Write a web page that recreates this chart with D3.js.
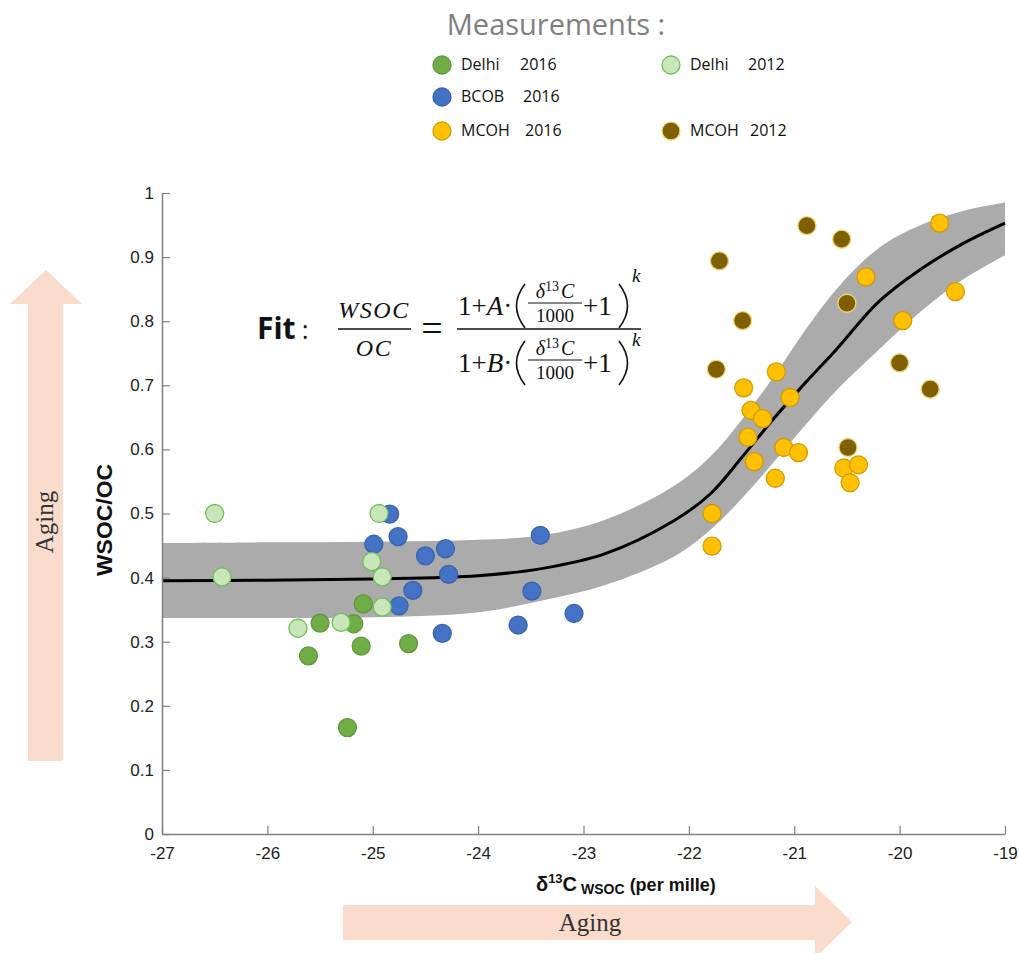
<!DOCTYPE html>
<html>
<head>
<meta charset="utf-8">
<script src="https://cdn.jsdelivr.net/npm/d3@7"></script>
<style>
  body { margin: 0; background: #fff; }
  svg { display: block; }
</style>
</head>
<body>
<div id="chart"></div>
<script>
// measured points, [delta13C, WSOC/OC]
const delhi2016 = [[-25.09, 0.359], [-25.50, 0.329], [-25.18, 0.328], [-25.61, 0.278],
  [-25.11, 0.293], [-24.66, 0.297], [-25.24, 0.166]];
const delhi2012 = [[-26.50, 0.500], [-26.43, 0.401], [-24.94, 0.500], [-25.01, 0.425],
  [-24.91, 0.401], [-24.91, 0.354], [-25.71, 0.321], [-25.30, 0.330]];
const bcob2016 = [[-24.84, 0.499], [-24.76, 0.464], [-24.99, 0.452], [-24.50, 0.434],
  [-24.31, 0.445], [-24.28, 0.405], [-24.62, 0.380], [-24.75, 0.356], [-24.34, 0.313],
  [-23.41, 0.466], [-23.49, 0.379], [-23.62, 0.326], [-23.09, 0.344]];
const mcoh2016 = [[-19.62, 0.953], [-20.32, 0.869], [-19.47, 0.846], [-19.97, 0.801],
  [-21.17, 0.721], [-21.48, 0.696], [-21.04, 0.681], [-21.41, 0.661], [-21.30, 0.648],
  [-21.44, 0.619], [-21.10, 0.603], [-20.96, 0.595], [-21.38, 0.581], [-21.18, 0.555],
  [-20.53, 0.571], [-20.39, 0.576], [-20.47, 0.548], [-21.78, 0.500], [-21.78, 0.449]];
const mcoh2012 = [[-20.88, 0.949], [-20.55, 0.928], [-21.71, 0.894], [-21.49, 0.801],
  [-20.50, 0.828], [-21.74, 0.725], [-20.00, 0.735], [-19.71, 0.694], [-20.49, 0.603]];

// fit curve and its band
const fitX = [-27, -26, -25, -24, -23.4, -22.8, -22.15, -21.8, -21.5, -21.2, -20.9, -20.6, -20.2, -19.8, -19.4, -19];
const fitY = [0.395, 0.396, 0.398, 0.403, 0.414, 0.437, 0.488, 0.530, 0.587, 0.647, 0.703, 0.756, 0.830, 0.881, 0.921, 0.953];
const bandUpper = [0.454, 0.455, 0.456, 0.459, 0.466, 0.490, 0.542, 0.588, 0.646, 0.712, 0.785, 0.850, 0.914, 0.950, 0.972, 0.985];
const bandLower = [0.337, 0.337, 0.338, 0.346, 0.364, 0.388, 0.432, 0.474, 0.523, 0.579, 0.637, 0.692, 0.755, 0.815, 0.865, 0.903];

const xTicks = [-27, -26, -25, -24, -23, -22, -21, -20, -19];
const yTicks = [0, 0.1, 0.2, 0.3, 0.4, 0.5, 0.6, 0.7, 0.8, 0.9, 1];
const yTickLabels = ['0', '0.1', '0.2', '0.3', '0.4', '0.5', '0.6', '0.7', '0.8', '0.9', '1'];

const legendNames = ['Delhi', 'Delhi', 'BCOB', 'MCOH', 'MCOH'];
const legendYears = ['2016', '2012', '2016', '2016', '2012'];

const width = 1019, height = 953;
const styles = {
  delhi2016: { fill: '#70ad47', stroke: '#5e9a3a' },
  delhi2012: { fill: '#c9e6bb', stroke: '#6fbf5a' },
  bcob2016: { fill: '#4472c4', stroke: '#3a64b0' },
  mcoh2016: { fill: '#ffc000', stroke: '#d49b00' },
  mcoh2012: { fill: '#7f6000', stroke: '#f2d27a' }
};
const peach = '#f9dccb';

const svg = d3.select('#chart').append('svg')
  .attr('width', width)
  .attr('height', height);

const x = d3.scaleLinear().domain([-27, -19]).range([162, 1005]);
const y = d3.scaleLinear().domain([0, 1]).range([834, 193]);

// aging arrows
const vArrow = [[28, 761], [28, 304], [10, 304], [46, 270], [82, 304], [63, 304], [63, 761]];
svg.append('polygon').attr('points', vArrow.join(' ')).attr('fill', peach);
svg.append('text')
  .attr('transform', 'translate(53,522) rotate(-90)')
  .attr('text-anchor', 'middle')
  .style('font-family', '"Liberation Serif", "Times New Roman", serif')
  .style('font-size', '25px')
  .attr('fill', '#333')
  .text('Aging');

const hArrow = [[343, 905], [815, 905], [815, 886], [852, 922], [815, 958], [815, 940], [343, 940]];
svg.append('polygon').attr('points', hArrow.join(' ')).attr('fill', peach);
svg.append('text')
  .attr('x', 590).attr('y', 931)
  .attr('text-anchor', 'middle')
  .style('font-family', '"Liberation Serif", "Times New Roman", serif')
  .style('font-size', '25px')
  .attr('fill', '#333')
  .text('Aging');

// band + fit line
const idx = d3.range(fitX.length);
svg.append('path')
  .datum(idx)
  .attr('fill', '#ababab')
  .attr('d', d3.area()
    .x(i => x(fitX[i]))
    .y0(i => y(bandLower[i]))
    .y1(i => y(bandUpper[i]))
    .curve(d3.curveCatmullRom.alpha(0.5)));

svg.append('path')
  .datum(idx)
  .attr('fill', 'none')
  .attr('stroke', '#000')
  .attr('stroke-width', 3)
  .attr('d', d3.line()
    .x(i => x(fitX[i]))
    .y(i => y(fitY[i]))
    .curve(d3.curveCatmullRom.alpha(0.5)));

// axes
const xAxis = svg.append('g')
  .attr('transform', `translate(0,${y(0)})`)
  .call(d3.axisBottom(x).tickValues(xTicks).tickSize(-8).tickSizeOuter(0).tickPadding(13)
    .tickFormat(d => String(d)));
const yAxis = svg.append('g')
  .attr('transform', `translate(${x(-27)},0)`)
  .call(d3.axisLeft(y).tickValues(yTicks).tickSize(-8).tickSizeOuter(0).tickPadding(8)
    .tickFormat((d, i) => yTickLabels[i]));

[xAxis, yAxis].forEach(g => {
  g.select('.domain').attr('stroke', '#808080').attr('stroke-width', 1.5);
  g.selectAll('.tick line').attr('stroke', '#808080').attr('stroke-width', 1.2);
  g.selectAll('.tick text')
    .attr('fill', '#222')
    .style('font-family', '"Liberation Sans", Arial, sans-serif')
    .style('font-size', '17px');
});

// points
function drawSeries(data, st) {
  svg.append('g').selectAll('circle')
    .data(data)
    .enter().append('circle')
    .attr('cx', d => x(d[0]))
    .attr('cy', d => y(d[1]))
    .attr('r', 9)
    .attr('fill', st.fill)
    .attr('stroke', st.stroke)
    .attr('stroke-width', 1.3);
}
drawSeries(bcob2016, styles.bcob2016);
drawSeries(delhi2016, styles.delhi2016);
drawSeries(delhi2012, styles.delhi2012);
drawSeries(mcoh2016, styles.mcoh2016);
drawSeries(mcoh2012, styles.mcoh2012);

// axis titles
const xl = svg.append('text')
  .attr('x', 536).attr('y', 891)
  .style('font-family', '"Liberation Sans Narrow", "Liberation Sans", Arial, sans-serif')
  .style('font-weight', 'bold')
  .attr('fill', '#111');
xl.append('tspan').style('font-size', '20px').text('δ');
xl.append('tspan').style('font-size', '13px').attr('dy', -8).text('13');
xl.append('tspan').style('font-size', '20px').attr('dy', 8).text('C');
xl.append('tspan').style('font-size', '14px').attr('dy', 3).attr('dx', 4).text('WSOC');
xl.append('tspan').style('font-size', '18px').attr('dy', -3).text(' (per mille)');

svg.append('text')
  .attr('transform', 'translate(112,520) rotate(-90)')
  .attr('text-anchor', 'middle')
  .attr('textLength', 112)
  .attr('lengthAdjust', 'spacingAndGlyphs')
  .style('font-family', '"Liberation Sans Narrow", "Liberation Sans", Arial, sans-serif')
  .style('font-weight', 'bold')
  .style('font-size', '22px')
  .attr('fill', '#111')
  .text('WSOC/OC');

// legend
svg.append('text')
  .attr('x', 556).attr('y', 35)
  .attr('text-anchor', 'middle')
  .style('font-family', '"Open Sans", sans-serif')
  .style('font-size', '29px')
  .attr('fill', '#7f7f7f')
  .text('Measurements :');

const legendKeys = ['delhi2016', 'delhi2012', 'bcob2016', 'mcoh2016', 'mcoh2012'];
const legendPos = [[442, 65, 520], [671, 65, 748], [442, 97, 523], [442, 131, 525], [671, 131, 750]];
legendKeys.forEach((k, i) => {
  const [cx, cy, yx] = legendPos[i];
  svg.append('circle')
    .attr('cx', cx).attr('cy', cy).attr('r', 9)
    .attr('fill', styles[k].fill)
    .attr('stroke', styles[k].stroke)
    .attr('stroke-width', 1.3);
  const t = svg.append('g')
    .style('font-family', '"Open Sans", sans-serif')
    .style('font-size', '16px')
    .attr('fill', '#111');
  t.append('text').attr('x', cx + 19).attr('y', cy + 5).text(legendNames[i]);
  t.append('text').attr('x', yx).attr('y', cy + 5).text(legendYears[i]);
});

// fit formula
const serif = '"Liberation Serif", "Times New Roman", serif';
const f = svg.append('g').attr('fill', '#111');
const fitLabel = f.append('text').attr('x', 257).attr('y', 339)
  .style('font-family', '"Open Sans", sans-serif');
fitLabel.append('tspan').style('font-size', '30px').style('font-weight', 'bold').text('Fit');
fitLabel.append('tspan').style('font-size', '26px').attr('dx', 6).text(':');

f.append('text').attr('x', 374).attr('y', 318).attr('text-anchor', 'middle')
  .style('font-family', serif).style('font-style', 'italic').style('font-size', '24px')
  .style('letter-spacing', '1.5px').text('WSOC');
f.append('line').attr('x1', 338).attr('x2', 411).attr('y1', 329).attr('y2', 329)
  .attr('stroke', '#111').attr('stroke-width', 1.5);
f.append('text').attr('x', 374).attr('y', 356).attr('text-anchor', 'middle')
  .style('font-family', serif).style('font-style', 'italic').style('font-size', '24px')
  .style('letter-spacing', '1.5px').text('OC');
f.append('text').attr('x', 432).attr('y', 341).attr('text-anchor', 'middle')
  .style('font-family', serif).style('font-size', '38px').text('=');
f.append('line').attr('x1', 457).attr('x2', 641).attr('y1', 329).attr('y2', 329)
  .attr('stroke', '#111').attr('stroke-width', 1.5);

['A', 'B'].forEach((letter, i) => {
  const dy = i * 57;
  const a = f.append('text').attr('x', 458).attr('y', 315 + dy)
    .style('font-family', serif).style('font-size', '27px');
  a.append('tspan').text('1+');
  a.append('tspan').style('font-style', 'italic').text(letter);
  a.append('tspan').text('·');
  // tall thin brackets
  f.append('path')
    .attr('d', `M525,${284 + dy} Q508,${306 + dy} 525,${328 + dy}`)
    .attr('fill', 'none').attr('stroke', '#111').attr('stroke-width', 1.6);
  f.append('path')
    .attr('d', `M619,${284 + dy} Q636,${306 + dy} 619,${328 + dy}`)
    .attr('fill', 'none').attr('stroke', '#111').attr('stroke-width', 1.6);
  const d13 = f.append('text').attr('x', 555).attr('y', 298 + dy).attr('text-anchor', 'middle')
    .style('font-family', serif).style('font-style', 'italic').style('font-size', '20px');
  d13.append('tspan').text('δ');
  d13.append('tspan').style('font-style', 'normal').style('font-size', '14px').attr('dy', -7).text('13');
  d13.append('tspan').attr('dy', 7).attr('dx', 2).text('C');
  f.append('line').attr('x1', 528).attr('x2', 582).attr('y1', 303 + dy).attr('y2', 303 + dy)
    .attr('stroke', '#111').attr('stroke-width', 1.2);
  f.append('text').attr('x', 555).attr('y', 322 + dy).attr('text-anchor', 'middle')
    .style('font-family', serif).style('font-size', '19px').text('1000');
  f.append('text').attr('x', 583).attr('y', 315 + dy)
    .style('font-family', serif).style('font-size', '27px').text('+1');
  f.append('text').attr('x', 632).attr('y', 282 + i * 64)
    .style('font-family', serif).style('font-style', 'italic').style('font-size', '19px').text('k');
});
</script>
</body>
</html>
